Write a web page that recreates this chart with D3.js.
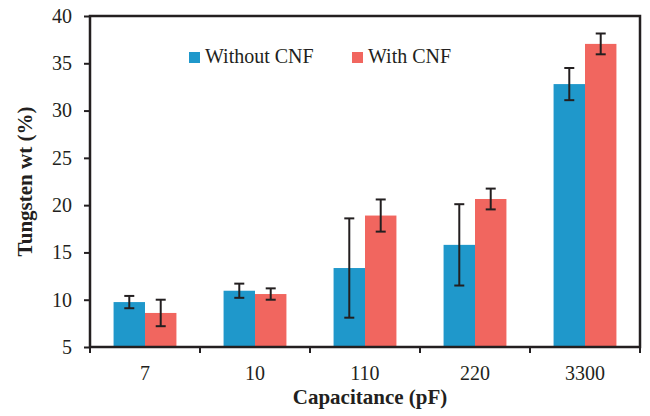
<!DOCTYPE html>
<head>
  <meta charset="utf-8">
  <script src="https://d3js.org/d3.v7.min.js"></script>
  <style>
  body { margin: 0; background: #fff; }
  </style>
</head>

<body>
  <svg id="chart"></svg>
  <script>
    // data
    var categories = ["7", "10", "110", "220", "3300"];
    var seriesNames = ["Without CNF", "With CNF"];
    var withoutCNF = [9.75, 10.95, 13.35, 15.8, 32.8];
    var withoutErr = [0.65, 0.75, 5.25, 4.3, 1.7];
    var withCNF = [8.6, 10.6, 18.9, 20.65, 37.05];
    var withErr = [1.4, 0.6, 1.7, 1.1, 1.1];
    var yTicks = [5, 10, 15, 20, 25, 30, 35, 40];

    var colors = ["#1f98cb", "#f1665f"];
    var ink = "#231f20";
    var serif = "'Liberation Serif', 'Times New Roman', 'DejaVu Serif', serif";

    var width = 650,
        height = 416,
        margin = {top: 16, right: 10, bottom: 69, left: 90};

    var svg = d3.select("#chart")
        .attr("width", width)
        .attr("height", height);

    var x0 = d3.scaleBand()
        .domain(categories)
        .range([margin.left, width - margin.right])
        .padding(0);

    var x1 = d3.scaleBand()
        .domain(seriesNames)
        .range([0, x0.bandwidth()])
        .paddingInner(0)
        .paddingOuter(0.75);

    var y = d3.scaleLinear()
        .domain([5, 40])
        .range([height - margin.bottom, margin.top]);

    var rows = categories.map(function(c, i) {
      return {
        cat: c,
        vals: [
          {s: seriesNames[0], v: withoutCNF[i], e: withoutErr[i]},
          {s: seriesNames[1], v: withCNF[i], e: withErr[i]}
        ]
      };
    });

    // bars
    var group = svg.selectAll("g.group")
        .data(rows)
      .enter().append("g")
        .attr("class", "group")
        .attr("transform", function(d) { return "translate(" + x0(d.cat) + ",0)"; });

    group.selectAll("rect")
        .data(function(d) { return d.vals; })
      .enter().append("rect")
        .attr("x", function(d) { return x1(d.s); })
        .attr("y", function(d) { return y(d.v); })
        .attr("width", x1.bandwidth())
        .attr("height", function(d) { return y(5) - y(d.v); })
        .attr("fill", function(d, i) { return colors[i]; });

    // error bars
    var eb = group.selectAll("g.err")
        .data(function(d) { return d.vals; })
      .enter().append("g")
        .attr("class", "err")
        .attr("stroke", ink)
        .attr("stroke-width", 2);

    var cx = function(d) { return x1(d.s) + x1.bandwidth() / 2; };
    eb.append("line")
        .attr("x1", cx).attr("x2", cx)
        .attr("y1", function(d) { return y(d.v + d.e); })
        .attr("y2", function(d) { return y(d.v - d.e); });
    eb.append("line")
        .attr("x1", function(d) { return cx(d) - 5; })
        .attr("x2", function(d) { return cx(d) + 5; })
        .attr("y1", function(d) { return y(d.v + d.e); })
        .attr("y2", function(d) { return y(d.v + d.e); });
    eb.append("line")
        .attr("x1", function(d) { return cx(d) - 5; })
        .attr("x2", function(d) { return cx(d) + 5; })
        .attr("y1", function(d) { return y(d.v - d.e); })
        .attr("y2", function(d) { return y(d.v - d.e); });

    // frame
    var x0r = x0.range();
    svg.append("rect")
        .attr("x", x0r[0])
        .attr("y", y(40))
        .attr("width", x0r[1] - x0r[0])
        .attr("height", y(5) - y(40))
        .attr("fill", "none")
        .attr("stroke", ink)
        .attr("stroke-width", 2.5);

    // y axis
    var yAxis = svg.append("g")
        .attr("transform", "translate(" + x0r[0] + ",0)")
        .call(d3.axisLeft(y).tickValues(yTicks).tickSize(6).tickPadding(12));
    yAxis.select(".domain").remove();
    yAxis.selectAll(".tick line").attr("stroke", ink).attr("stroke-width", 2);
    yAxis.selectAll(".tick text")
        .style("font-family", serif)
        .style("font-size", "20px")
        .style("fill", ink);

    // x axis: ticks on category boundaries, labels at centres
    var bounds = categories.map(function(c) { return x0(c); }).concat([x0r[1]]);
    svg.selectAll("line.xtick")
        .data(bounds)
      .enter().append("line")
        .attr("class", "xtick")
        .attr("x1", function(d) { return d; })
        .attr("x2", function(d) { return d; })
        .attr("y1", y(5))
        .attr("y2", y(5) + 6)
        .attr("stroke", ink)
        .attr("stroke-width", 2);

    svg.selectAll("text.xlab")
        .data(categories)
      .enter().append("text")
        .attr("class", "xlab")
        .attr("x", function(d) { return x0(d) + x0.bandwidth() / 2; })
        .attr("y", y(5) + 33)
        .attr("text-anchor", "middle")
        .style("font-family", serif)
        .style("font-size", "20px")
        .style("fill", ink)
        .text(function(d) { return d; });

    // titles
    svg.append("text")
        .attr("x", (x0r[0] + x0r[1]) / 2 + 5)
        .attr("y", 404)
        .attr("text-anchor", "middle")
        .style("font-family", serif)
        .style("font-size", "21px")
        .style("font-weight", "bold")
        .style("fill", ink)
        .text("Capacitance (pF)");

    svg.append("text")
        .attr("transform", "translate(32," + ((y(5) + y(40)) / 2) + ") rotate(-90)")
        .attr("text-anchor", "middle")
        .style("font-family", serif)
        .style("font-size", "21px")
        .style("font-weight", "bold")
        .style("fill", ink)
        .text("Tungsten wt (%)");

    // legend
    var legendX = [189, 352];
    var legend = svg.selectAll("g.legend")
        .data(seriesNames)
      .enter().append("g")
        .attr("class", "legend")
        .attr("transform", function(d, i) { return "translate(" + legendX[i] + ",52)"; });
    legend.append("rect")
        .attr("width", 11)
        .attr("height", 11)
        .attr("fill", function(d, i) { return colors[i]; });
    legend.append("text")
        .attr("x", 16)
        .attr("y", 11)
        .style("font-family", serif)
        .style("font-size", "20px")
        .style("fill", ink)
        .text(function(d) { return d; });
  </script>
</body>
